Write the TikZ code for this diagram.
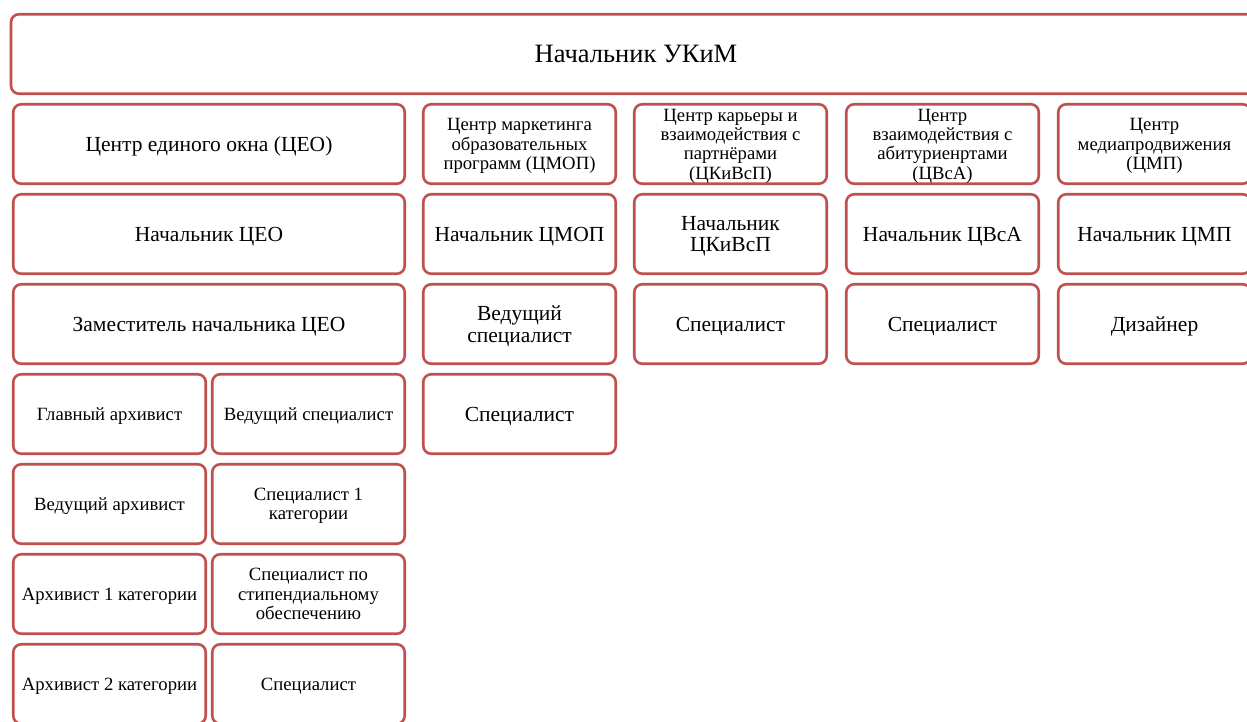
\documentclass[tikz,border=0pt]{standalone}
\usepackage{fontspec}
\setmainfont{Liberation Serif}
\definecolor{boxred}{HTML}{C0504D}
\begin{document}
\begin{tikzpicture}[x=1pt,y=-1pt,
  box/.style={draw=boxred, line width=2.6pt, rounded corners=8pt, fill=white,
    align=center, inner sep=0pt, text depth=0pt, minimum height=79.5pt, minimum width=192.5pt},
  wide/.style={box, minimum width=391.5pt},
  fbig/.style={font=\fontsize{26.5}{30}\selectfont},
  fmid/.style={font=\fontsize{21.5}{21.5}\selectfont},
  fhead/.style={font=\fontsize{18.7}{19.3}\selectfont},
  fsub/.style={font=\fontsize{18.7}{19.5}\selectfont}]
\useasboundingbox (0,0) rectangle (1247,722);
\clip (0,0) rectangle (1247,722);
% top
\node[box, fbig, minimum width=1250pt] (top) at (636,54) {Начальник УКиМ};
% row 2
\node[wide, fmid] (ceo) at (209,144) {Центр единого окна (ЦЕО)};
\node[box, fhead] (cmop) at (519.5,144) {Центр маркетинга\\образовательных\\программ (ЦМОП)};
\node[box, fhead] (ckivsp) at (730.5,144) {Центр карьеры и\\взаимодействия с\\партнёрами\\(ЦКиВсП)};
\node[box, fhead] (cvsa) at (942.5,144) {Центр\\взаимодействия с\\абитуриенртами\\(ЦВсА)};
\node[box, fhead] (cmp) at (1154.5,144) {Центр\\медиапродвижения\\(ЦМП)};
% row 3
\node[wide, fmid] (nceo) at (209,234) {Начальник ЦЕО};
\node[box, fmid] (ncmop) at (519.5,234) {Начальник ЦМОП};
\node[box, fmid] (nckivsp) at (730.5,234) {Начальник\\ЦКиВсП};
\node[box, fmid] (ncvsa) at (942.5,234) {Начальник ЦВсА};
\node[box, fmid] (ncmp) at (1154.5,234) {Начальник ЦМП};
% row 4
\node[wide, fmid] (zceo) at (209,324) {Заместитель начальника ЦЕО};
\node[box, fmid] (vscmop) at (519.5,324) {Ведущий\\специалист};
\node[box, fmid] (sckivsp) at (730.5,324) {Специалист};
\node[box, fmid] (scvsa) at (942.5,324) {Специалист};
\node[box, fmid] (dcmp) at (1154.5,324) {Дизайнер};
% row 5
\node[box, fsub] (ga) at (109.5,414) {Главный архивист};
\node[box, fsub] (vs) at (308.5,414) {Ведущий специалист};
\node[box, fmid] (scmop) at (519.5,414) {Специалист};
% row 6
\node[box, fsub] (va) at (109.5,504) {Ведущий архивист};
\node[box, fsub] (s1) at (308.5,504) {Специалист 1\\категории};
% row 7
\node[box, fsub] (a1) at (109.5,594) {Архивист 1 категории};
\node[box, fsub] (ss) at (308.5,594) {Специалист по\\стипендиальному\\обеспечению};
% row 8
\node[box, fsub] (a2) at (109.5,684) {Архивист 2 категории};
\node[box, fsub] (sp) at (308.5,684) {Специалист};
\end{tikzpicture}
\end{document}
